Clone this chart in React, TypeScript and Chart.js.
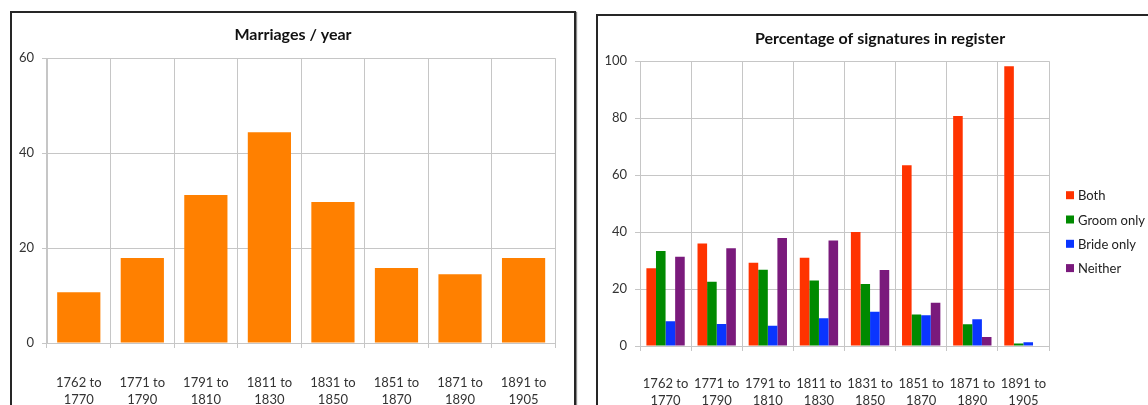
import React, { useEffect, useRef } from 'react';
import { Chart, registerables } from 'chart.js';

Chart.register(...registerables);

// Period labels shared by both charts (two lines each)
const periods: string[][] = [
  ['1762 to', '1770'],
  ['1771 to', '1790'],
  ['1791 to', '1810'],
  ['1811 to', '1830'],
  ['1831 to', '1850'],
  ['1851 to', '1870'],
  ['1871 to', '1890'],
  ['1891 to', '1905'],
];

// Average number of marriages per year in each period
const marriagesPerYear = [10.7, 17.9, 31.2, 44.4, 29.7, 15.8, 14.5, 17.9];

// Percentage of register entries by who signed
const signedBoth = [27.3, 36.0, 29.2, 31.0, 40.0, 63.5, 80.8, 98.2];
const signedGroomOnly = [33.4, 22.6, 26.8, 23.0, 21.8, 11.1, 7.6, 0.9];
const signedBrideOnly = [8.7, 7.7, 7.1, 9.7, 12.0, 10.8, 9.4, 1.3];
const signedNeither = [31.3, 34.3, 37.9, 37.0, 26.7, 15.2, 3.2, 0];

const marriagesTicks = { max: 60, step: 20 };
const percentTicks = { max: 100, step: 20 };

const FONT = 'Lato, "Open Sans", sans-serif';
const GRID = '#c6c6c6';
const TEXT = '#333333';

// Centre the title across the whole canvas rather than the padded plot width
const fullWidthTitle = {
  id: 'fullWidthTitle',
  afterLayout(chart: any) {
    const t = chart.titleBlock;
    if (t) {
      t.left = 0;
      t.right = chart.width;
    }
  },
};

// Legend drawn to the right of the plot: small square swatch + label per dataset
const sideLegend = {
  id: 'sideLegend',
  afterDraw(chart: Chart) {
    const { ctx, chartArea } = chart;
    const x = chartArea.right + 17;
    let y = chartArea.top + 130;
    ctx.save();
    ctx.font = `13px ${FONT}`;
    ctx.textBaseline = 'middle';
    ctx.textAlign = 'left';
    chart.data.datasets.forEach((ds: any) => {
      ctx.fillStyle = ds.backgroundColor;
      ctx.fillRect(x, y, 8, 8);
      ctx.fillStyle = '#222222';
      ctx.fillText(ds.label, x + 12, y + 5);
      y += 24.3;
    });
    ctx.restore();
  },
};

function useChart(ref: React.RefObject<HTMLCanvasElement | null>, build: (el: HTMLCanvasElement) => Chart) {
  useEffect(() => {
    if (!ref.current) return;
    const chart = build(ref.current);
    return () => chart.destroy();
  }, []);
}

const tickFont = { family: FONT, size: 13, lineHeight: 1.3 };
const titleFont = { family: FONT, size: 16, weight: 'bold' as const };

function MarriagesChart() {
  const ref = useRef<HTMLCanvasElement>(null);
  useChart(ref, (el) =>
    new Chart(el, {
      type: 'bar',
      data: {
        labels: periods,
        datasets: [
          {
            label: 'Marriages / year',
            data: marriagesPerYear,
            backgroundColor: '#ff8000',
            borderWidth: 0,
            barPercentage: 0.68,
            categoryPercentage: 1,
          },
        ],
      },
      plugins: [fullWidthTitle],
      options: {
        responsive: false,
        animation: false,
        layout: { padding: { left: 0, right: 11, top: 0, bottom: 0 } },
        plugins: {
          legend: { display: false },
          tooltip: { enabled: false },
          title: {
            display: true,
            text: 'Marriages / year',
            color: '#111111',
            font: titleFont,
            padding: { top: 12, bottom: 14 },
          },
        },
        scales: {
          x: {
            grid: { color: GRID, offset: true, tickLength: 5 },
            border: { color: GRID },
            ticks: {
              color: TEXT,
              font: tickFont,
              padding: 26,
              maxRotation: 0,
              autoSkip: false,
            },
            afterFit: (s: any) => {
              s.height = 62;
            },
          },
          y: {
            min: 0,
            max: marriagesTicks.max,
            grid: { color: GRID, tickLength: 5 },
            border: { color: GRID },
            ticks: {
              stepSize: marriagesTicks.step,
              color: TEXT,
              font: tickFont,
              padding: 8,
            },
            afterFit: (s: any) => {
              s.width = 34;
            },
          },
        },
      },
    })
  );
  return <canvas ref={ref} width={560} height={392} style={{ position: 'absolute', left: 13, top: 13 }} />;
}

function SignaturesChart() {
  const ref = useRef<HTMLCanvasElement>(null);
  const bar = { borderWidth: 0, barPercentage: 1, categoryPercentage: 0.75 };
  useChart(ref, (el) =>
    new Chart(el, {
      type: 'bar',
      data: {
        labels: periods,
        datasets: [
          { label: 'Both', data: signedBoth, backgroundColor: '#ff3300', ...bar },
          { label: 'Groom only', data: signedGroomOnly, backgroundColor: '#008a00', ...bar },
          { label: 'Bride only', data: signedBrideOnly, backgroundColor: '#0a35ff', ...bar },
          { label: 'Neither', data: signedNeither, backgroundColor: '#7a1a7c', ...bar },
        ],
      },
      plugins: [fullWidthTitle, sideLegend],
      options: {
        responsive: false,
        animation: false,
        layout: { padding: { left: 0, right: 112, top: 0, bottom: 0 } },
        plugins: {
          tooltip: { enabled: false },
          legend: { display: false },
          title: {
            display: true,
            text: 'Percentage of signatures in register',
            color: '#111111',
            font: titleFont,
            padding: { top: 12, bottom: 13 },
          },
        },
        scales: {
          x: {
            grid: { color: GRID, offset: true, tickLength: 5 },
            border: { color: GRID },
            ticks: {
              color: TEXT,
              font: tickFont,
              padding: 24,
              maxRotation: 0,
              autoSkip: false,
            },
            afterFit: (s: any) => {
              s.height = 59;
            },
          },
          y: {
            min: 0,
            max: percentTicks.max,
            grid: { color: GRID, tickLength: 5 },
            border: { color: GRID },
            ticks: {
              stepSize: percentTicks.step,
              color: TEXT,
              font: tickFont,
              padding: 8,
            },
            afterFit: (s: any) => {
              s.width = 41;
            },
          },
        },
      },
    })
  );
  return <canvas ref={ref} width={562} height={388} style={{ position: 'absolute', left: 599, top: 17 }} />;
}

const frame: React.CSSProperties = {
  position: 'absolute',
  boxSizing: 'border-box',
  border: '2px solid #262626',
  boxShadow: '1px 1px 1px rgba(0,0,0,0.45)',
  background: '#ffffff',
};

export default function App() {
  return (
    <div
      style={{
        position: 'absolute',
        left: 0,
        top: 0,
        width: 1148,
        height: 405,
        overflow: 'hidden',
        background: '#ffffff',
      }}
    >
      <div style={{ ...frame, left: 10, top: 11, width: 566, height: 430 }} />
      <div style={{ ...frame, left: 596, top: 14, width: 600, height: 430 }} />
      <MarriagesChart />
      <SignaturesChart />
    </div>
  );
}
